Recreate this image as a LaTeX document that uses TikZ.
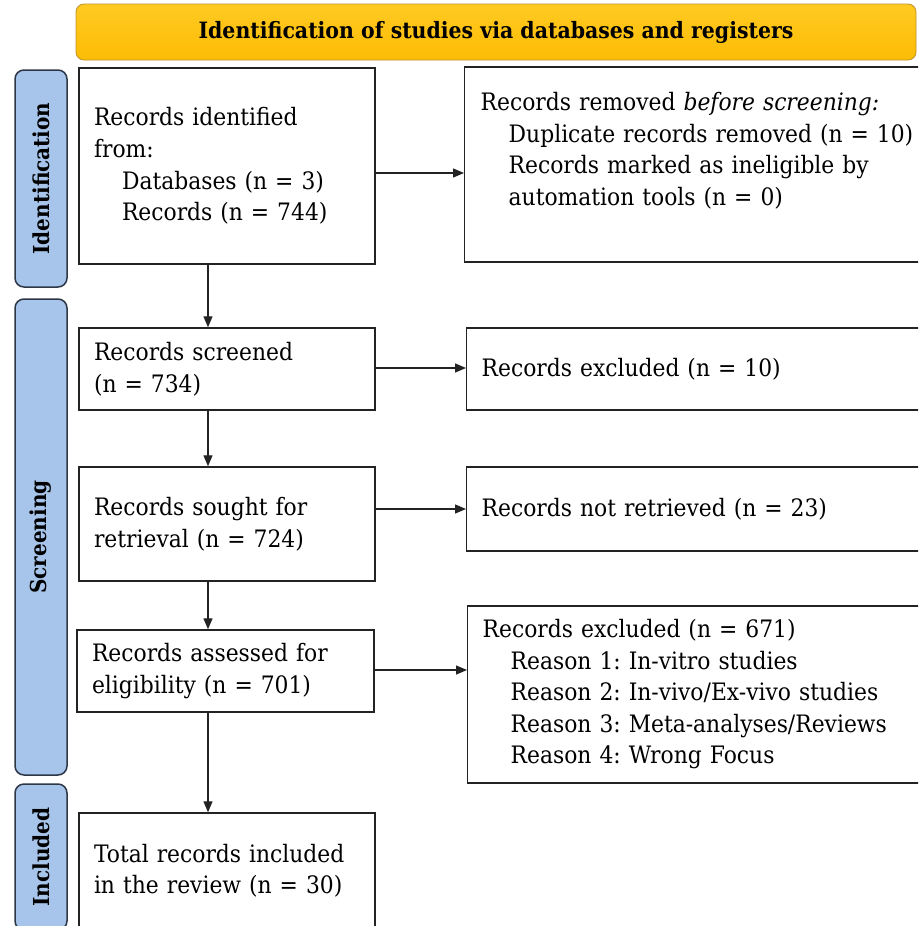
\documentclass[tikz,border=0pt]{standalone}
\usepackage{fontspec}
\setmainfont{DejaVu Serif}[FakeStretch=0.91]
\usetikzlibrary{arrows.meta}
\definecolor{hdrtop}{RGB}{255,202,34}
\definecolor{hdrbot}{RGB}{252,188,4}
\definecolor{hdrline}{RGB}{190,145,40}
\definecolor{sidefill}{RGB}{167,197,235}
\definecolor{sideline}{RGB}{45,55,70}
\definecolor{boxline}{RGB}{35,35,35}
\frenchspacing
\begin{document}
\begin{tikzpicture}[x=1pt,y=-1pt,
  box/.style={draw=boxline,line width=1.4pt,fill=white,rectangle,inner xsep=15pt,inner ysep=0pt,
    align=left,font=\frenchspacing\fontsize{24}{31.5}\selectfont},
  rbox/.style={box,anchor=west,text width=470pt},
  hdr/.style={draw=hdrline,line width=0.8pt,top color=hdrtop,bottom color=hdrbot,rounded corners=8pt,
    minimum width=840pt,minimum height=56pt,inner sep=0pt,font=\bfseries\fontsize{22.5}{24}\selectfont},
  side/.style={draw=sideline,line width=1.5pt,fill=sidefill,rounded corners=9pt,rotate=90,
    minimum height=52pt,inner sep=0pt,font=\bfseries\fontsize{22}{24}\selectfont},
  arr/.style={draw=boxline,line width=1.3pt,-{Triangle[length=11pt,width=9pt]}}]
\useasboundingbox (0,0) rectangle (918,926);
\clip (0,0) rectangle (918,926);
\fill[white] (0,0) rectangle (918,926);

\node[hdr] (h) at (496,32) {Identification of studies via databases and registers};

\node[side,minimum width=217pt] (s1) at (41,178.5) {Identification};
\node[side,minimum width=476pt] (s2) at (41,537) {Screening};
\node[side,minimum width=146pt] (s3) at (41,857) {Included};

\node[box,text width=266pt,minimum height=196pt] (b1) at (227,166)
  {Records identified\\from:\\\hspace*{28pt}Databases (n = 3)\\\hspace*{28pt}Records (n = 744)};
\node[box,text width=266pt,minimum height=82pt] (b2) at (227,369)
  {Records screened\\(n = 734)};
\node[box,text width=266pt,minimum height=114pt] (b3) at (227,524)
  {Records sought for\\retrieval (n = 724)};
\node[box,text width=267pt,minimum height=82pt] (b4) at (225.5,671)
  {Records assessed for\\eligibility (n = 701)};
\node[box,text width=266pt,minimum height=115pt] (b5) at (227,870.5)
  {Total records included\\in the review (n = 30)};

\node[rbox,inner xsep=16pt,minimum height=195pt] (r1) at (464,164.5)
  {Records removed \textit{before screening:}\\\hspace*{28pt}Duplicate records removed (n = 10)\\\hspace*{28pt}Records marked as ineligible by\\\hspace*{28pt}automation tools (n = 0)\\\mbox{}};
\node[rbox,minimum height=82pt] (r2) at (466,369)
  {Records excluded (n = 10)};
\node[rbox,minimum height=84pt] (r3) at (466,509)
  {Records not retrieved (n = 23)};
\node[rbox,minimum height=177pt] (r4) at (467,694.5)
  {Records excluded (n = 671)\\\hspace*{28pt}Reason 1: In-vitro studies\\\hspace*{28pt}Reason 2: In-vivo/Ex-vivo studies\\\hspace*{28pt}Reason 3: Meta-analyses/Reviews\\\hspace*{28pt}Reason 4: Wrong Focus};

\coordinate (vx) at (208,0);
\coordinate (h1) at (0,173);
\coordinate (h2) at (0,368);
\coordinate (h3) at (0,509);
\coordinate (h4) at (0,670);

\draw[arr] (b1.south -| vx) -- (b2.north -| vx);
\draw[arr] (b2.south -| vx) -- (b3.north -| vx);
\draw[arr] (b3.south -| vx) -- (b4.north -| vx);
\draw[arr] (b4.south -| vx) -- (b5.north -| vx);

\draw[arr] (b1.east |- h1) -- (r1.west |- h1);
\draw[arr] (b2.east |- h2) -- (r2.west |- h2);
\draw[arr] (b3.east |- h3) -- (r3.west |- h3);
\draw[arr] (b4.east |- h4) -- (r4.west |- h4);
\end{tikzpicture}
\end{document}
